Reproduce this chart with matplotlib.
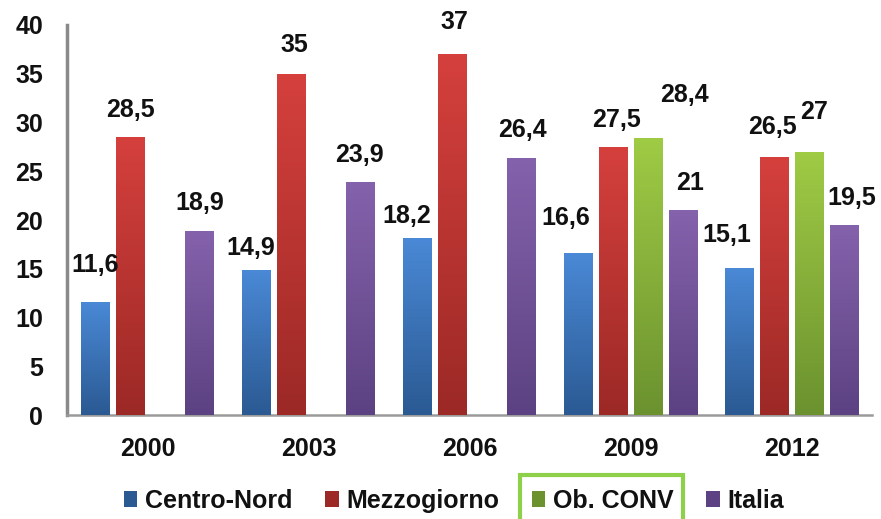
import numpy as np
import matplotlib.pyplot as plt
from matplotlib.colors import LinearSegmentedColormap
from matplotlib.patches import Patch, Rectangle

plt.rcParams['font.family'] = ['Liberation Sans', 'DejaVu Sans']
plt.rcParams['font.weight'] = 'bold'
plt.rcParams['font.size'] = 18

years = ["2000", "2003", "2006", "2009", "2012"]
series = ["Centro-Nord", "Mezzogiorno", "Ob. CONV", "Italia"]
centro_nord = [11.6, 14.9, 18.2, 16.6, 15.1]
mezzogiorno = [28.5, 35, 37, 27.5, 26.5]
ob_conv = [None, None, None, 28.4, 27]
italia = [18.9, 23.9, 26.4, 21, 19.5]
values = [centro_nord, mezzogiorno, ob_conv, italia]

# top / bottom colour of each bar gradient
colors = [("#4a89d6", "#2b5a93"),
          ("#d5403d", "#9c2926"),
          ("#9fcb45", "#6b922f"),
          ("#8562ac", "#5c4282")]

# where the labels sit, in pixels from the bar top (dx, dy), as in the original
nudges = [[(0, 37), (-5, 22), (-10, 22), (-12, 35), (-12, 33)],
          [(0, 27), (3, 29), (2, 32), (3, 27), (-2, 30)],
          [None, None, None, (36, 43), (5, 40)],
          [(0, 28), (-2, 27), (0, 28), (7, 27), (8, 27)]]

fig = plt.figure(figsize=(8.81, 5.19), dpi=100)
ax = fig.add_axes([0.076, 0.2, 0.914, 0.752])

x = np.arange(len(years))
step = 0.217
width = 0.18

for i, name in enumerate(series):
    top, bottom = colors[i]
    cmap = LinearSegmentedColormap.from_list(name, [bottom, top])
    for j, v in enumerate(values[i]):
        if v is None:
            continue
        xc = x[j] + (i - 1.5) * step
        bar = ax.bar(xc, v, width, color=bottom, linewidth=0, zorder=2)[0]
        grad = np.linspace(0, 1, 100).reshape(-1, 1)
        im = ax.imshow(grad, cmap=cmap, origin="lower", aspect="auto",
                       extent=[xc - width / 2, xc + width / 2, 0, v], zorder=3)
        im.set_clip_path(bar)
        dx, dy = nudges[i][j]
        ax.annotate(f"{v:g}".replace(".", ","), (xc, v), xytext=(dx, dy),
                    textcoords="offset pixels", ha="center", va="center",
                    fontsize=18, fontweight="bold", color="#111111", zorder=4)

ax.set_xlim(-0.5, len(years) - 0.5)
ax.set_ylim(0, 40)
ax.set_yticks(range(0, 41, 5))
ax.set_xticks(x)
ax.set_xticklabels(years)
ax.tick_params(length=0, colors="#111111")
ax.tick_params(axis="y", pad=17)
ax.tick_params(axis="x", pad=16)

for s in ["top", "right"]:
    ax.spines[s].set_visible(False)
ax.spines["left"].set_color("#8a8a8a")
ax.spines["left"].set_linewidth(2.5)
ax.spines["bottom"].set_color("#9a9a9a")
ax.spines["bottom"].set_linewidth(1.8)

handles = [Patch(facecolor=c[1], edgecolor="none") for c in colors]
leg = fig.legend(handles, series, loc="center", bbox_to_anchor=(0.515, 0.035),
                 ncol=4, frameon=False, handlelength=0.55, handleheight=0.55,
                 handletextpad=0.3, columnspacing=1.3, fontsize=18)
for t in leg.get_texts():
    t.set_color("#111111")

# green frame round the Ob. CONV entry
fig.canvas.draw()
r = fig.canvas.get_renderer()
tb = leg.get_texts()[2].get_window_extent(r)
hb = leg.legend_handles[2].get_window_extent(r)
x0 = hb.x0 - 12
x1 = tb.x1 + 10
frame = Rectangle((x0, -20), x1 - x0, tb.y1 + 14 + 20, transform=None,
                  fill=False, edgecolor="#8fd04a", linewidth=3)
fig.add_artist(frame)

fig.savefig("out.png", dpi=100)
